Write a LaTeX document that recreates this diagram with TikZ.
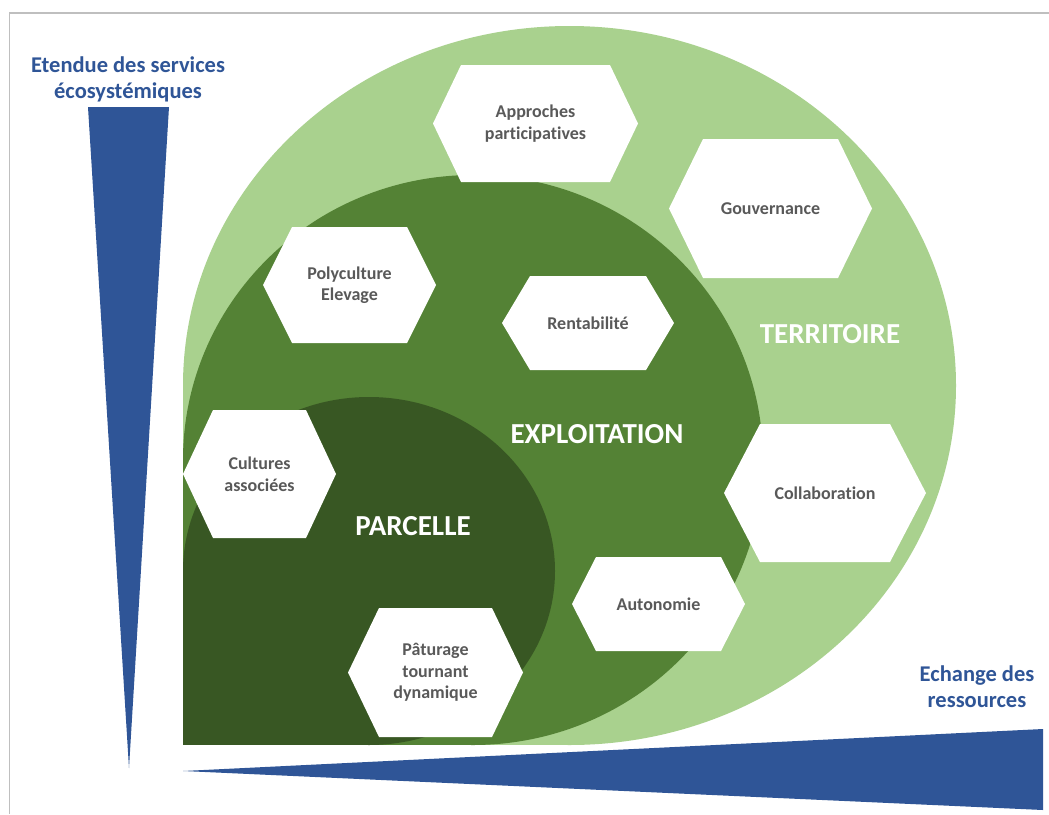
\documentclass[tikz,border=0pt]{standalone}
\usepackage{fontspec}
\setmainfont{Carlito}[Ligatures=NoCommon]
\definecolor{lightg}{HTML}{A9D18E}
\definecolor{medg}{HTML}{548235}
\definecolor{darkg}{HTML}{385723}
\definecolor{axisblue}{HTML}{2F5597}
\definecolor{txtgray}{HTML}{595959}
\definecolor{framegray}{HTML}{BFBFBF}
% name, left, top, right, bottom, inset, text
\newcommand{\hexcell}[7]{%
  \fill[hexfill] (#2,{(#3+#5)/2}) -- ({#2+#6},#3) -- ({#4-#6},#3) -- (#4,{(#3+#5)/2}) -- ({#4-#6},#5) -- ({#2+#6},#5) -- cycle;
  \node[hextext] (#1) at ({(#2+#4)/2},{(#3+#5)/2}) {#7};
}
\begin{document}
\begin{tikzpicture}[x=1pt,y=-1pt,
  hexfill/.style={fill=white},
  hextext/.style={text=txtgray, font=\fontsize{18}{21.5}\selectfont\bfseries, align=center, inner sep=0pt},
  biglabel/.style={text=white, font=\fontsize{29}{34}\selectfont\bfseries, inner sep=0pt},
  bluelabel/.style={text=axisblue, font=\fontsize{22.5}{26}\selectfont\bfseries, align=center, inner sep=0pt},
  framestyle/.style={draw=framegray, line width=1.5pt}
]
\useasboundingbox (0,0) rectangle (1049,814);
\fill[white] (0,0) rectangle (1049,814);
% frame
\draw[framestyle] (9.5,814) -- (9.5,13) -- (1049,13);
% axes (blue wedges)
\fill[axisblue] (88,107) -- (169,107) -- (129,768) -- cycle;
\fill[axisblue] (183,771) -- (1043,729) -- (1043,810) -- cycle;
% TERRITOIRE
\fill[lightg] (569.5,385.5) ellipse [x radius=386.5, y radius=359.5];
\fill[lightg] (183,385.5) rectangle (569.5,745);
% EXPLOITATION
\fill[medg] (473,460) ellipse [x radius=290, y radius=285];
\fill[medg] (183,460) rectangle (473,745);
% PARCELLE
\fill[darkg] (369,571) ellipse [x radius=186, y radius=174];
\fill[darkg] (183,571) rectangle (369,745);
% hexagons
\hexcell{appr}{433}{65}{638}{182}{28}{Approches\\participatives}
\hexcell{gouv}{669}{139}{872}{278}{34}{Gouvernance}
\hexcell{poly}{263}{227}{436}{343}{29}{Polyculture\\Elevage}
\hexcell{rent}{502}{276}{674}{370}{28}{Rentabilité}
\hexcell{cult}{183}{410}{336}{538}{30}{Cultures\\associées}
\hexcell{collab}{724}{424}{926}{562}{36}{Collaboration}
\hexcell{auto}{572}{557}{745}{651}{24}{Autonomie}
\hexcell{patur}{348}{608}{523}{737}{31}{Pâturage\\tournant\\dynamique}
% level labels
\node[biglabel] (terr) at (830,334.5) {TERRITOIRE};
\node[biglabel] (expl) at (597,434) {EXPLOITATION};
\node[biglabel] (parc) at (413,526.5) {PARCELLE};
% axis labels
\node[bluelabel] (etendue) at (128,79) {Etendue des services\\écosystémiques};
\node[bluelabel] (echange) at (977,687) {Echange des\\ressources};
\end{tikzpicture}
\end{document}
